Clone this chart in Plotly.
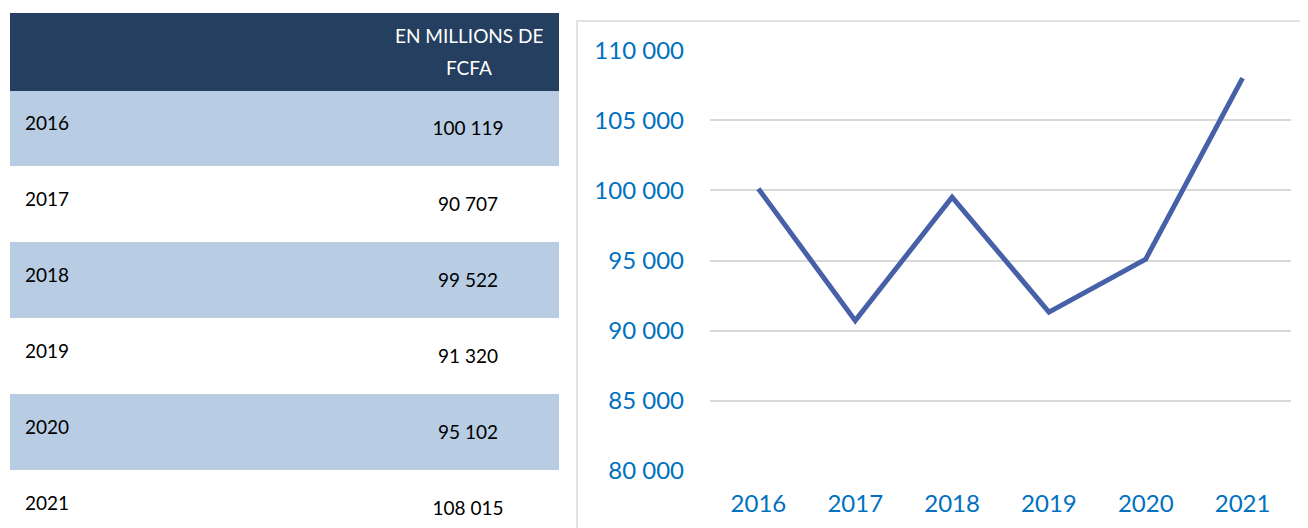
import plotly.graph_objects as go

years = ["2016", "2017", "2018", "2019", "2020", "2021"]
values = [100119, 90707, 99522, 91320, 95102, 108015]
value_labels = ["100 119", "90 707", "99 522", "91 320", "95 102", "108 015"]
header_lines = ["EN MILLIONS DE", "FCFA"]
y_ticks = [80000, 85000, 90000, 95000, 100000, 105000, 110000]

# the page body has an 8px margin, so the figure is 8px smaller than the window
W, H = 1300, 520
OFF = 8
navy = "#243F60"
light = "#B8CCE4"
blue_txt = "#0070C0"
line_col = "#4661A8"
font_fam = "Lato, Noto Sans, sans-serif"


def px(x):
    return (x - OFF) / W


def py(y):
    return 1 - (y - OFF) / H


row_fill = [light if i % 2 == 0 else "white" for i in range(len(years))]
blank = ["" for _ in years]
clear = "rgba(0,0,0,0)"

fig = go.Figure()

# table background (header + banded rows)
fig.add_trace(go.Table(
    domain=dict(x=[px(10), px(558)], y=[0, py(13)]),
    columnwidth=[371, 177],
    header=dict(values=["", ""], fill_color=navy, line_color=navy, height=77),
    cells=dict(values=[blank, blank], fill_color=[row_fill, row_fill],
               line_color=[row_fill, row_fill], height=76),
))

# year column text
fig.add_trace(go.Table(
    domain=dict(x=[px(17), px(378)], y=[0, py(31)]),
    header=dict(values=[""], fill_color=clear, line_color=clear, height=77),
    cells=dict(values=[years], fill_color=clear, line_color=clear, height=76,
               align="left", font=dict(family=font_fam, size=19, color="black")),
))

# value column text
fig.add_trace(go.Table(
    domain=dict(x=[px(378), px(558)], y=[0, py(36)]),
    header=dict(values=[""], fill_color=clear, line_color=clear, height=77),
    cells=dict(values=[value_labels], fill_color=clear, line_color=clear, height=76,
               align="center", font=dict(family=font_fam, size=19, color="black")),
))

fig.add_trace(go.Scatter(
    x=years, y=values, mode="lines",
    line=dict(color=line_col, width=5),
    showlegend=False, hoverinfo="x+y",
))

# header text
for i, txt in enumerate(header_lines):
    fig.add_annotation(text=txt, xref="paper", yref="paper",
                       x=px(469), y=py(35 + 32 * i), xanchor="center", yanchor="middle",
                       showarrow=False, font=dict(family=font_fam, size=19, color="white"))

# chart frame
fig.add_shape(type="rect", xref="paper", yref="paper",
              x0=px(577), x1=1.05, y0=-0.05, y1=py(21),
              line=dict(color="#D9D9D9", width=1.5), fillcolor=clear, layer="below")

fig.update_layout(
    width=W, height=H,
    margin=dict(l=0, r=0, t=0, b=0, autoexpand=False),
    paper_bgcolor="white", plot_bgcolor="white",
    separators=", ",
    font=dict(family=font_fam),
    xaxis=dict(domain=[px(710), px(1291)], type="category", range=[-0.5, 5.5],
               showgrid=False, zeroline=False, showline=False, automargin=False,
               tickfont=dict(size=24, color=blue_txt), ticklabelstandoff=16),
    yaxis=dict(domain=[py(470.7), py(50.3)], range=[80000, 110000],
               tickvals=y_ticks, tickformat=",d",
               showgrid=True, gridcolor="#D9D9D9", gridwidth=1.5,
               zeroline=False, showline=False, automargin=False,
               tickfont=dict(size=24, color=blue_txt), ticklabelstandoff=25),
)

fig.write_html("out.html")
